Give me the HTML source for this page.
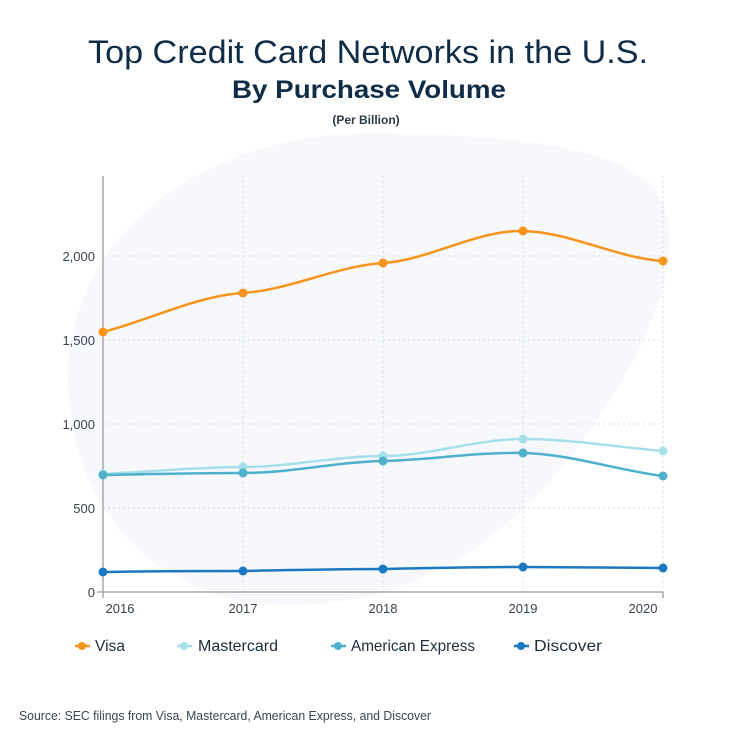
<!DOCTYPE html>
<html><head><style>
body{margin:0;background:#fff;width:732px;height:740px;overflow:hidden;font-family:"Liberation Sans",sans-serif}
</style></head><body>
<svg width="732" height="740" xmlns="http://www.w3.org/2000/svg" font-family="Liberation Sans, sans-serif">
<text x="88" y="63" font-size="32" fill="#0f2d47" textLength="560" lengthAdjust="spacingAndGlyphs">Top Credit Card Networks in the U.S.</text>
<text x="232" y="98" font-size="25" font-weight="bold" fill="#0f2d47" textLength="274" lengthAdjust="spacingAndGlyphs">By Purchase Volume</text>
<text x="366" y="124" text-anchor="middle" font-size="12" font-weight="bold" fill="#2a3a4a">(Per Billion)</text>
<path d="M380,133 C500,135 620,145 655,190 C690,240 660,330 590,430 C520,530 430,600 300,605 C170,610 70,520 68,380 C66,240 200,130 380,133 Z" fill="#f6f8fc"/>
<g stroke="#d8dbe0" stroke-width="1" stroke-dasharray="2,3">
<line x1="103" y1="256" x2="663" y2="256"/><line x1="103" y1="340" x2="663" y2="340"/>
<line x1="103" y1="424" x2="663" y2="424"/><line x1="103" y1="508" x2="663" y2="508"/>
<line x1="243" y1="176" x2="243" y2="592"/><line x1="383" y1="176" x2="383" y2="592"/>
<line x1="523" y1="176" x2="523" y2="592"/><line x1="663" y1="176" x2="663" y2="592"/>
</g>
<g stroke="#a8a8a8" stroke-width="1.5"><line x1="103" y1="176" x2="103" y2="598"/><line x1="97" y1="592" x2="663" y2="592"/><line x1="663" y1="592" x2="663" y2="598"/></g>
<g font-size="13" fill="#3a4450" text-anchor="end">
<text x="95" y="261">2,000</text><text x="95" y="345">1,500</text><text x="95" y="429">1,000</text><text x="95" y="513">500</text><text x="95" y="597">0</text></g>
<g font-size="13" fill="#3a4450" text-anchor="middle">
<text x="120" y="613">2016</text><text x="243" y="613">2017</text><text x="383" y="613">2018</text><text x="523" y="613">2019</text><text x="643" y="613">2020</text></g>
<g fill="none" stroke-width="2.5">
<path stroke="#f7941d" d="M103,332 C150,320 196,296 243,293 C290,290 336,266 383,263 C430,260 476,230 523,231 C570,232 616,258 663,261"/>
<path stroke="#a6dfea" d="M103,474 C150,472 196,467 243,467 C290,467 336,456 383,456 C430,456 476,439 523,439 C570,439 616,447 663,451"/>
<path stroke="#4fb0cb" d="M103,475 C150,474 196,473 243,473 C290,473 336,462 383,461 C430,460 476,452 523,453 C570,454 616,470 663,476"/>
<path stroke="#1c78c0" d="M103,572 C150,571 196,571 243,571 C290,570 336,569 383,569 C430,568 476,567 523,567 L663,568"/>
</g>
<g fill="#f7941d"><circle cx="103" cy="332" r="4.5"/><circle cx="243" cy="293" r="4.5"/><circle cx="383" cy="263" r="4.5"/><circle cx="523" cy="231" r="4.5"/><circle cx="663" cy="261" r="4.5"/></g>
<g fill="#a6dfea"><circle cx="103" cy="474" r="4.5"/><circle cx="243" cy="467" r="4.5"/><circle cx="383" cy="456" r="4.5"/><circle cx="523" cy="439" r="4.5"/><circle cx="663" cy="451" r="4.5"/></g>
<g fill="#4fb0cb"><circle cx="103" cy="475" r="4.5"/><circle cx="243" cy="473" r="4.5"/><circle cx="383" cy="461" r="4.5"/><circle cx="523" cy="453" r="4.5"/><circle cx="663" cy="476" r="4.5"/></g>
<g fill="#1c78c0"><circle cx="103" cy="572" r="4.5"/><circle cx="243" cy="571" r="4.5"/><circle cx="383" cy="569" r="4.5"/><circle cx="523" cy="567" r="4.5"/><circle cx="663" cy="568" r="4.5"/></g>
<g font-size="16" fill="#1e2c3a">
<line x1="75" y1="646" x2="90" y2="646" stroke="#f7941d" stroke-width="2.5"/><circle cx="82" cy="646" r="4" fill="#f7941d"/><text x="95" y="651" textLength="30" lengthAdjust="spacingAndGlyphs">Visa</text>
<line x1="177" y1="646" x2="192" y2="646" stroke="#a6dfea" stroke-width="2.5"/><circle cx="184" cy="646" r="4" fill="#a6dfea"/><text x="198" y="651" textLength="80" lengthAdjust="spacingAndGlyphs">Mastercard</text>
<line x1="331" y1="646" x2="346" y2="646" stroke="#4fb0cb" stroke-width="2.5"/><circle cx="338" cy="646" r="4" fill="#4fb0cb"/><text x="351" y="651" textLength="124" lengthAdjust="spacingAndGlyphs">American Express</text>
<line x1="514" y1="646" x2="529" y2="646" stroke="#1c78c0" stroke-width="2.5"/><circle cx="521" cy="646" r="4" fill="#1c78c0"/><text x="534" y="651" textLength="68" lengthAdjust="spacingAndGlyphs">Discover</text>
</g>
<text x="19" y="720" font-size="12.5" fill="#3a4450" textLength="412" lengthAdjust="spacingAndGlyphs">Source: SEC filings from Visa, Mastercard, American Express, and Discover</text>
</svg>
</body></html>
